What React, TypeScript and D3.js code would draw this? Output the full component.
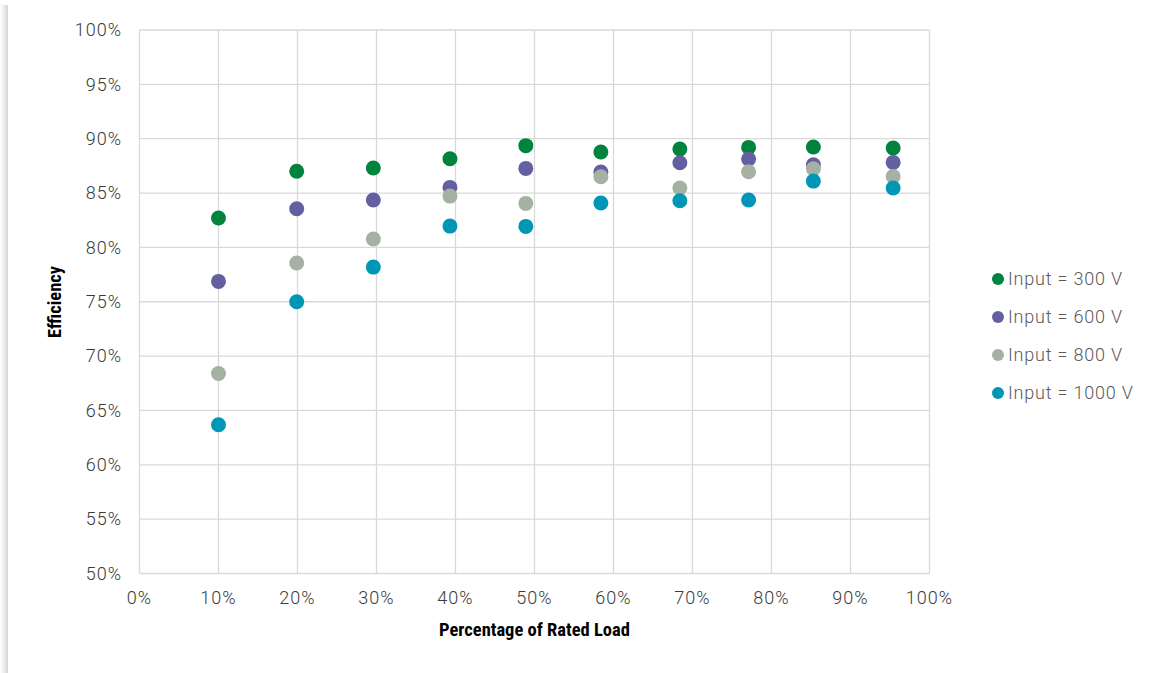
import React from "react";
import * as d3 from "d3";

const loads = [0.10, 0.199, 0.296, 0.393, 0.489, 0.584, 0.684, 0.771, 0.853, 0.954];
const input300 = [0.827, 0.870, 0.873, 0.8816, 0.8936, 0.8877, 0.8905, 0.892, 0.8923, 0.8914];
const input600 = [0.7687, 0.8356, 0.8436, 0.8552, 0.8727, 0.8693, 0.8779, 0.8813, 0.876, 0.8782];
const input800 = [0.684, 0.7856, 0.8077, 0.8472, 0.8405, 0.865, 0.8546, 0.8696, 0.8724, 0.8653];
const input1000 = [0.6368, 0.750, 0.7819, 0.8196, 0.8193, 0.8408, 0.8429, 0.8436, 0.861, 0.8546];

const seriesNames = ["Input = 300 V", "Input = 600 V", "Input = 800 V", "Input = 1000 V"];
const seriesColors = ["#00843d", "#645fa0", "#a4b1a3", "#0096b6"];
const seriesValues = [input300, input600, input800, input1000];

const xTicks = [0, 0.1, 0.2, 0.3, 0.4, 0.5, 0.6, 0.7, 0.8, 0.9, 1.0];
const yTicks = [0.5, 0.55, 0.6, 0.65, 0.7, 0.75, 0.8, 0.85, 0.9, 0.95, 1.0];

const xTitle = "Percentage of Rated Load";
const yTitle = "Efficiency";

export default function App() {
  const W = 1153, H = 673;
  const x = d3.scaleLinear().domain([0, 1]).range([139.5, 929.5]);
  const y = d3.scaleLinear().domain([0.5, 1]).range([573.5, 30]);
  const fmt = (v: number) => `${Math.round(v * 100)}%`;
  const tickFont = "Roboto, 'Liberation Sans', sans-serif";
  const titleFont = "'Liberation Sans Narrow', 'Roboto Condensed', 'Arial Narrow', sans-serif";

  return (
    <svg width={W} height={H} style={{ position: "absolute", left: 0, top: 0, background: "#fff" }}>
      <defs>
        <linearGradient id="shadow" x1="0" x2="1" y1="0" y2="0">
          <stop offset="0" stopColor="#ffffff" />
          <stop offset="0.7" stopColor="#e4e4e4" />
          <stop offset="1" stopColor="#d0d0d0" />
        </linearGradient>
      </defs>
      <rect x={0} y={0} width={W} height={H} fill="#fff" />
      <rect x={0} y={5} width={8} height={H - 5} fill="url(#shadow)" />

      {/* grid */}
      {yTicks.map((t) => (
        <line key={"gy" + t} x1={x(0)} x2={x(1)} y1={y(t)} y2={y(t)} stroke="#d9d9d9" strokeWidth={1.3} />
      ))}
      {xTicks.map((t) => (
        <line key={"gx" + t} x1={x(t)} x2={x(t)} y1={y(1)} y2={y(0.5)} stroke="#d9d9d9" strokeWidth={1.3} />
      ))}

      {/* y tick labels */}
      {yTicks.map((t) => (
        <text key={"ty" + t} x={122} y={y(t)} dy="0.35em" textAnchor="end" letterSpacing={1}
          fontFamily={tickFont} fontWeight={300} fontSize={18} fill="#3a3a3a">{fmt(t)}</text>
      ))}
      {/* x tick labels */}
      {xTicks.map((t) => (
        <text key={"tx" + t} x={x(t)} y={598} dy="0.35em" textAnchor="middle" letterSpacing={1}
          fontFamily={tickFont} fontWeight={300} fontSize={18} fill="#3a3a3a">{fmt(t)}</text>
      ))}

      {/* titles */}
      <text x={534.5} y={630} dy="0.35em" textAnchor="middle" fontFamily={titleFont}
        fontWeight={700} fontSize={18.5} fill="#000">{xTitle}</text>
      <text transform={`translate(55,302) rotate(-90)`} dy="0.35em" textAnchor="middle"
        fontFamily={titleFont} fontWeight={700} fontSize={18.5} fill="#000">{yTitle}</text>

      {/* points */}
      {seriesValues.map((vals, si) => (
        <g key={"s" + si}>
          {vals.map((v, i) => (
            <circle key={i} cx={x(loads[i])} cy={y(v)} r={7.5} fill={seriesColors[si]} />
          ))}
        </g>
      ))}

      {/* legend */}
      {seriesNames.map((n, i) => (
        <g key={"l" + i} transform={`translate(998, ${279 + i * 38})`}>
          <circle cx={0} cy={0} r={6} fill={seriesColors[i]} />
          <text x={10} y={0} dy="0.35em" letterSpacing={0.8} fontFamily={tickFont} fontWeight={300} fontSize={18} fill="#595959">{n}</text>
        </g>
      ))}
    </svg>
  );
}
